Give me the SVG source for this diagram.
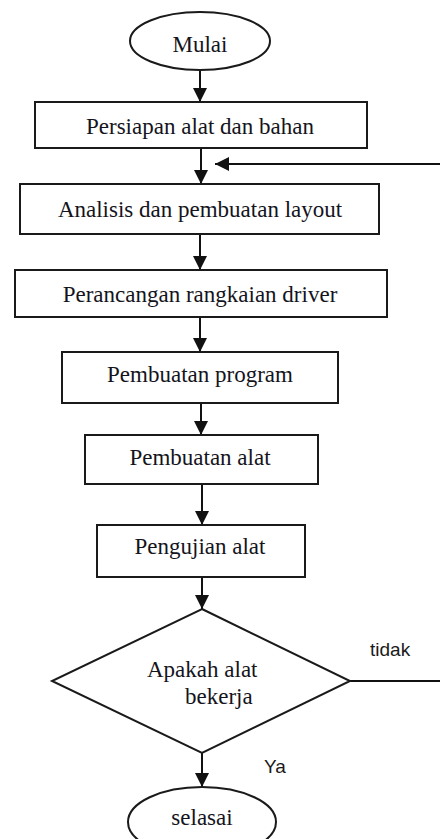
<svg xmlns="http://www.w3.org/2000/svg" width="440" height="839" viewBox="0 0 440 839">
  <style>
    .shape { fill: #ffffff; stroke: #1a1a1a; stroke-width: 2; }
    .lbl { font-family: "Liberation Serif", "Times New Roman", serif; font-size: 23px; fill: #141420; }
    .mid { text-anchor: middle; }
    .side { font-family: "Liberation Sans", Arial, sans-serif; font-size: 19px; fill: #1a1a1a; }
    .conn { stroke: #111111; stroke-width: 2; fill: none; }
  </style>
  <defs>
    <marker id="arrow" viewBox="0 0 14 14" refX="14" refY="7" markerWidth="14" markerHeight="14" markerUnits="userSpaceOnUse" orient="auto">
      <path d="M0,0 L14,7 L0,14 Z" fill="#111111"/>
    </marker>
  </defs>
  <rect width="440" height="839" fill="#ffffff"/>

  <g id="connectors">
    <line class="conn" x1="200" y1="70" x2="200" y2="102" marker-end="url(#arrow)"/>
    <line class="conn" x1="201" y1="148" x2="201" y2="184" marker-end="url(#arrow)"/>
    <line class="conn" x1="440" y1="164" x2="215" y2="164" marker-end="url(#arrow)"/>
    <line class="conn" x1="200" y1="234" x2="200" y2="270" marker-end="url(#arrow)"/>
    <line class="conn" x1="200" y1="317" x2="200" y2="352" marker-end="url(#arrow)"/>
    <line class="conn" x1="201" y1="403" x2="201" y2="435" marker-end="url(#arrow)"/>
    <line class="conn" x1="202" y1="484" x2="202" y2="525" marker-end="url(#arrow)"/>
    <line class="conn" x1="202" y1="577" x2="202" y2="609" marker-end="url(#arrow)"/>
    <line class="conn" x1="350" y1="681" x2="440" y2="681"/>
    <line class="conn" x1="202" y1="753" x2="202" y2="787" marker-end="url(#arrow)"/>
    <text class="side" x="370" y="656">tidak</text>
    <text class="side" x="264" y="773">Ya</text>
  </g>

  <g id="mulai">
    <ellipse class="shape" cx="200" cy="41" rx="70" ry="29"/>
    <text class="lbl mid" x="200" y="52">Mulai</text>
  </g>
  <g id="persiapan">
    <rect class="shape" x="35" y="102" width="332" height="46"/>
    <text class="lbl mid" x="200" y="134">Persiapan alat dan bahan</text>
  </g>
  <g id="analisis">
    <rect class="shape" x="20" y="184" width="359" height="50"/>
    <text class="lbl mid" x="200" y="217">Analisis dan pembuatan layout</text>
  </g>
  <g id="perancangan">
    <rect class="shape" x="15" y="270" width="372" height="47"/>
    <text class="lbl mid" x="200" y="302">Perancangan rangkaian driver</text>
  </g>
  <g id="program">
    <rect class="shape" x="62" y="352" width="276" height="51"/>
    <text class="lbl mid" x="200" y="382">Pembuatan program</text>
  </g>
  <g id="pembuatan-alat">
    <rect class="shape" x="85" y="435" width="233" height="49"/>
    <text class="lbl mid" x="200" y="465">Pembuatan alat</text>
  </g>
  <g id="pengujian">
    <rect class="shape" x="97" y="525" width="208" height="52"/>
    <text class="lbl mid" x="200" y="554">Pengujian alat</text>
  </g>
  <g id="keputusan">
    <polygon class="shape" points="202,609 350,681 202,753 52,681"/>
    <text class="lbl" x="147" y="677">Apakah alat</text>
    <text class="lbl" x="185" y="704">bekerja</text>
  </g>
  <g id="selasai">
    <ellipse class="shape" cx="202" cy="822" rx="74" ry="35"/>
    <text class="lbl mid" x="202" y="825">selasai</text>
  </g>
</svg>
